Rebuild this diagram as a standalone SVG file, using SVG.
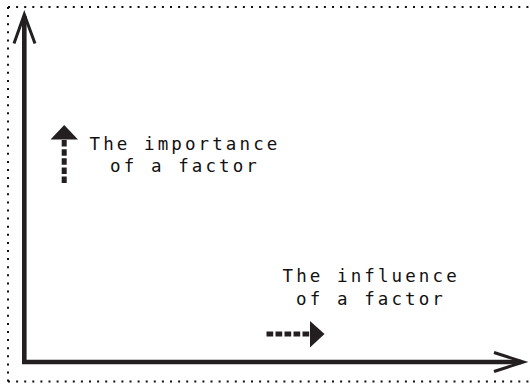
<svg xmlns="http://www.w3.org/2000/svg" width="530" height="385" viewBox="0 0 530 385">
  <style>
    .frame { stroke: #111; stroke-width: 2; stroke-dasharray: 2 6.1; fill: none; }
    .axis { stroke: #231f20; stroke-width: 4.6; fill: none; }
    .head { stroke: #231f20; stroke-width: 3; fill: none; stroke-linecap: butt; stroke-linejoin: miter; }
    .dash { stroke: #231f20; stroke-width: 5; fill: none; stroke-dasharray: 6.5 2.6; }
    .solid { fill: #231f20; }
    .label { font-family: "DejaVu Sans Mono", "Liberation Mono", monospace; font-size: 17.5px; letter-spacing: 3.1px; fill: #111; }
  </style>
  <rect width="530" height="385" fill="#ffffff"/>

  <!-- dotted frame (open on the right) -->
  <g id="frame">
    <line class="frame" x1="8" y1="7" x2="529" y2="7"/>
    <line class="frame" x1="8" y1="7" x2="8" y2="382"/>
    <line class="frame" x1="8" y1="381.5" x2="529" y2="381.5"/>
  </g>

  <!-- axes -->
  <g id="connectors">
    <polyline class="axis" points="24.3,16 24.3,362 521,362"/>
    <polyline class="head" points="14,43.5 24.3,14.5 35,43.5"/>
    <polyline class="head" points="494,352.5 523.5,362 494,371.5"/>
  </g>

  <!-- vertical indicator -->
  <g id="importance">
    <line class="dash" x1="64.2" y1="183" x2="64.2" y2="138"/>
    <polygon class="solid" points="50.5,139.5 64.2,125 78,139.5"/>
    <text class="label" x="89.5" y="149.5">The importance</text>
    <text class="label" x="110" y="172">of a factor</text>
  </g>

  <!-- horizontal indicator -->
  <g id="influence">
    <line class="dash" x1="266.5" y1="334" x2="311" y2="334" style="stroke-dasharray: 6.7 2.3"/>
    <polygon class="solid" points="310,321 324.5,334 310,347.5"/>
    <text class="label" x="282.5" y="282">The influence</text>
    <text class="label" x="296" y="305">of a factor</text>
  </g>
</svg>
